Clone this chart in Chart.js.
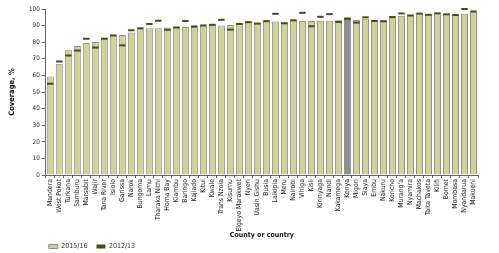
<!DOCTYPE html>
<html>
<head>
<meta charset="utf-8">
<script src="https://cdn.jsdelivr.net/npm/chart.js@4"></script>
<style>
  html, body { margin: 0; padding: 0; background: #fff; }
  #wrap { width: 499px; height: 253px; position: relative; }
</style>
</head>
<body>
<div id="wrap"><canvas id="coverageChart"></canvas></div>
<script>
// counties, sorted by 2015/16 coverage; Kenya is the national figure
const counties = ['Mandera', 'West Pokot', 'Turkana', 'Samburu', 'Marsabit', 'Wajir', 'Tana River', 'Isiolo',
    'Garissa', 'Narok', 'Bungoma', 'Lamu', 'Tharaka Nithi', 'Homa Bay', 'Kiambu', 'Baringo', 'Kajiado', 'Kitui',
    'Kwale', 'Trans Nzoia', 'Kisumu', 'Elgeyo Marakwet', 'Nyeri', 'Uasin Gishu', 'Busia', 'Laikipia', 'Meru',
    'Nairobi', 'Vihiga', 'Kisii', 'Kirinyaga', 'Nandi', 'Kakamega', 'Kenya', 'Migori', 'Siaya', 'Embu', 'Nakuru',
    'Kericho', 'Murang\'a', 'Nyamira', 'Machakos', 'Taita Taveta', 'Kilifi', 'Bomet', 'Mombasa', 'Nyandarua', 'Makueni'];

const cov2015 = [59.3, 67.0, 75.5, 77.7, 79.5, 80.1, 82.7, 84.4, 84.4, 85.8, 87.8, 88.4, 88.4, 88.8, 88.8, 89.2,
    89.2, 90.0, 90.4, 90.0, 90.4, 91.2, 92.2, 91.8, 93.0, 92.4, 92.0, 93.4, 92.8, 92.8, 93.0, 93.0,
    93.2, 95.0, 93.4, 94.2, 93.2, 93.2, 94.8, 95.9, 96.2, 96.9, 96.9, 96.9, 96.9, 96.5, 97.1, 98.1];

const cov2012 = [55.0, 68.4, 72.0, 75.0, 82.1, 76.8, 82.1, 84.1, 78.1, 87.2, 88.4, 91.0, 92.9, 87.5, 88.9, 92.8,
    89.5, 90.1, 90.5, 93.5, 87.6, 91.0, 92.1, 91.2, 92.7, 97.1, 91.4, 93.2, 97.7, 89.6, 95.3, 96.9,
    92.2, 94.1, 91.8, 95.0, 92.8, 92.6, 95.2, 97.3, 96.1, 97.2, 96.5, 97.4, 96.8, 96.4, 100, 98.5];

const yTicks = [0, 10, 20, 30, 40, 50, 60, 70, 80, 90, 100];

const FONT = "'Liberation Sans Narrow', 'DejaVu Sans Condensed', 'Arial Narrow', sans-serif";
const BAR_FILL = '#cfd396';
const BAR_EDGE = '#8e8e8e';
const KENYA_FILL = '#8f8f8f';
const MARK = '#454d14';

// the 2012/13 value is a thin dash across the bar
const dashes = cov2012.map(v => [v - 0.6, v + 0.6]);

// line the legend up under the axis and pull it down to the bottom edge
const legendNudge = {
    id: 'legendNudge',
    afterLayout(chart) {
        if (!chart.legend) return;
        chart.legend.left -= 6;
        chart.legend.top -= 9;
    }
};

new Chart(document.getElementById('coverageChart'), {
    type: 'bar',
    data: {
        labels: counties,
        datasets: [
            {
                label: '2015/16',
                data: cov2015,
                backgroundColor: counties.map(c => c === 'Kenya' ? KENYA_FILL : BAR_FILL),
                borderColor: BAR_EDGE,
                borderWidth: 1,
                barPercentage: 0.78,
                categoryPercentage: 1,
                grouped: false,
                order: 1
            },
            {
                label: '2012/13',
                data: dashes,
                backgroundColor: MARK,
                borderWidth: 0,
                barPercentage: 0.72,
                categoryPercentage: 1,
                grouped: false,
                clip: false,
                order: 0
            }
        ]
    },
    options: {
        responsive: true,
        maintainAspectRatio: false,
        animation: false,
        layout: { padding: { top: 9, right: 21, left: 8, bottom: -16 } },
        plugins: {
            tooltip: { enabled: false },
            legend: {
                position: 'bottom',
                align: 'start',
                fullSize: false,
                labels: {
                    boxWidth: 9,
                    boxHeight: 4,
                    padding: 9,
                    color: '#333',
                    font: { family: FONT, size: 7 },
                    sort: (a, b) => a.datasetIndex - b.datasetIndex
                }
            }
        },
        scales: {
            x: {
                grid: { display: true, drawOnChartArea: false, tickLength: 3, color: '#666', offset: true },
                border: { color: '#666' },
                ticks: {
                    autoSkip: false, minRotation: 90, maxRotation: 90, padding: 1,
                    color: '#222', font: { family: FONT, size: 6.8 }
                },
                title: {
                    display: true, text: 'County or country', color: '#111',
                    font: { family: FONT, size: 7, weight: 'bold' },
                    padding: { top: -2, bottom: 4 }
                }
            },
            y: {
                min: 0,
                max: 100,
                afterBuildTicks: axis => { axis.ticks = yTicks.map(v => ({ value: v })); },
                grid: { display: true, drawOnChartArea: false, tickLength: 4, color: '#666' },
                border: { color: '#666' },
                ticks: { padding: 2, color: '#222', font: { family: FONT, size: 6.3 } },
                title: {
                    display: true, text: 'Coverage, %', color: '#111',
                    font: { family: FONT, size: 7.5, weight: 'bold' },
                    padding: { top: 0, bottom: 10 }
                }
            }
        }
    },
    plugins: [legendNudge]
});
</script>
</body>
</html>
